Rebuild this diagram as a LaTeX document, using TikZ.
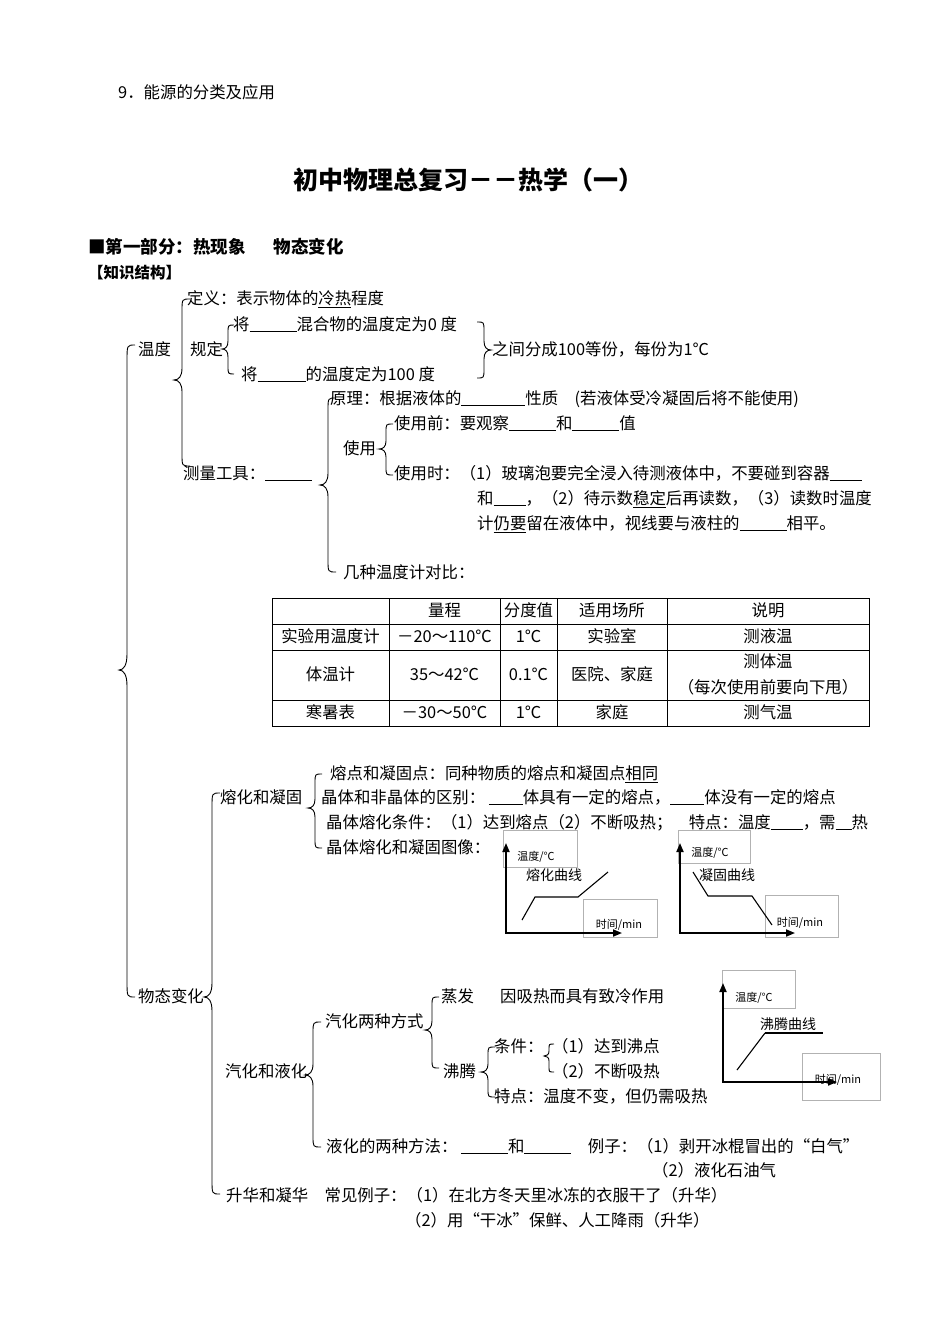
\documentclass[tikz,border=0pt]{standalone}
\usepackage{fontspec}
\setmainfont{Noto Sans CJK SC}
\usetikzlibrary{arrows.meta}
\newcommand{\bl}[1]{\rule[-0.12em]{#1}{0.6pt}}
% left brace: x of line, top y, tip y, bottom y, width, radius
\newcommand{\LB}[6]{\draw[brc] ({#1+#5},{#2}) .. controls ({#1},{#2}) and ({#1},{#2}) .. ({#1},{#2+#6}) -- ({#1},{#3-#6}) .. controls ({#1},{#3-0.3*#6}) and ({#1-0.4*#5},{#3}) .. ({#1-#5},{#3}) .. controls ({#1-0.4*#5},{#3}) and ({#1},{#3+0.3*#6}) .. ({#1},{#3+#6}) -- ({#1},{#4-#6}) .. controls ({#1},{#4}) and ({#1},{#4}) .. ({#1+#5},{#4});}
\newcommand{\RB}[6]{\draw[brc] ({#1-#5},{#2}) .. controls ({#1},{#2}) and ({#1},{#2}) .. ({#1},{#2+#6}) -- ({#1},{#3-#6}) .. controls ({#1},{#3-0.3*#6}) and ({#1+0.4*#5},{#3}) .. ({#1+#5},{#3}) .. controls ({#1+0.4*#5},{#3}) and ({#1},{#3+0.3*#6}) .. ({#1},{#3+#6}) -- ({#1},{#4-#6}) .. controls ({#1},{#4}) and ({#1},{#4}) .. ({#1-#5},{#4});}
\tikzset{
  txt/.style={anchor=west, inner sep=0pt, text height=1.05em, text depth=0.05em},
  cell/.style={anchor=center, inner sep=0pt, text height=1.05em, text depth=0.05em},
  brc/.style={line width=0.9pt, black},
  tbl/.style={line width=0.8pt, black},
  gbox/.style={line width=0.7pt, black!30},
  axis/.style={line width=1.8pt, black, {Triangle[length=9pt,width=7pt]}-{Triangle[length=9pt,width=7pt]}},
  curve/.style={line width=1.1pt, black},
  small/.style={font=\fontsize{11}{13}\selectfont},
  mid/.style={font=\fontsize{14}{16}\selectfont},
}
\begin{document}
\begin{tikzpicture}[x=1pt,y=-1pt,font=\fontsize{16.4}{19}\selectfont]
\fill[white] (0,0) rectangle (950,1344);
\useasboundingbox (0,0) rectangle (950,1344);

% headings
\node[txt] (n9) at (118,93) {9．能源的分类及应用};
\node[cell, font=\fontsize{25}{29}\selectfont\bfseries] (title) at (468,184) {初中物理总复习－－热学（一）};
\node[txt, font=\fontsize{17.5}{20}\selectfont\bfseries] (sec) at (88,248) {■第一部分：热现象\hspace{1.6em}物态变化};
\node[txt, font=\fontsize{15.5}{18}\selectfont\bfseries] (kj) at (88,273) {【知识结构】};

% 温度
\node[txt] (wd) at (138,350) {温度};
\node[txt] (dy) at (187,299) {定义：表示物体的\underline{冷热}程度};
\node[txt] (gd) at (190,350) {规定};
\node[txt] (j1) at (233,325) {将\bl{47pt}混合物的温度定为0 度};
\node[txt] (j2) at (241,375) {将\bl{48pt}的温度定为100 度};
\node[txt] (zj) at (492,350) {之间分成100等份，每份为1℃};
\node[txt] (clgj) at (183,474) {测量工具：\bl{47pt}};
\node[txt] (yl) at (330,399) {原理：根据液体的\bl{64pt}性质\quad(若液体受冷凝固后将不能使用)};
\node[txt] (sy) at (343,449) {使用};
\node[txt] (syq) at (394,424) {使用前：要观察\bl{47pt}和\bl{47pt}值};
\node[txt] (sys) at (394,474) {使用时：（1）玻璃泡要完全浸入待测液体中，不要碰到容器\bl{32pt}};
\node[txt] (sys2) at (477,499) {和\bl{32pt}，（2）待示数\underline{稳定}后再读数，（3）读数时温度};
\node[txt] (sys3) at (477,524) {计\underline{仍要}留在液体中，视线要与液柱的\bl{47pt}相平。};
\node[txt] (jz) at (343,573) {几种温度计对比：};

% braces for 温度
\LB{127}{345}{670}{997}{8}{16}
\LB{182}{299}{380}{466}{8}{12}
\LB{228}{325}{349}{374}{6}{8}
\RB{484}{322}{350}{378}{7}{9}
\LB{328}{398}{485}{572}{8}{12}
\LB{386}{424}{449}{475}{7}{8}

% table
\draw[tbl] (272,598) rectangle (869,726);
\foreach \yy in {624,650,700} \draw[tbl] (272,\yy) -- (869,\yy);
\foreach \xx in {389,500,557,667} \draw[tbl] (\xx,598) -- (\xx,726);
\node[cell] (h2) at (444.5,611) {量程};
\node[cell] (h3) at (528.5,611) {分度值};
\node[cell] (h4) at (612,611) {适用场所};
\node[cell] (h5) at (768,611) {说明};
\node[cell] (a1) at (330.5,637) {实验用温度计};
\node[cell] (a2) at (444.5,637) {－20～110℃};
\node[cell] (a3) at (528.5,637) {1℃};
\node[cell] (a4) at (612,637) {实验室};
\node[cell] (a5) at (768,637) {测液温};
\node[cell] (b1) at (330.5,675) {体温计};
\node[cell] (b2) at (444.5,675) {35～42℃};
\node[cell] (b3) at (528.5,675) {0.1℃};
\node[cell] (b4) at (612,675) {医院、家庭};
\node[cell] (b5) at (768,662) {测体温};
\node[cell] (b6) at (768,688) {（每次使用前要向下甩）};
\node[cell] (c1) at (330.5,713) {寒暑表};
\node[cell] (c2) at (444.5,713) {－30～50℃};
\node[cell] (c3) at (528.5,713) {1℃};
\node[cell] (c4) at (612,713) {家庭};
\node[cell] (c5) at (768,713) {测气温};

% 物态变化
\node[txt] (wt) at (138,997) {物态变化};
\LB{212}{793}{997}{1194}{8}{14}
\node[txt] (rh) at (220,798) {熔化和凝固};
\LB{315}{774}{808}{848}{7}{9}
\node[txt] (rd) at (330,774) {熔点和凝固点：同种物质的熔点和凝固点\underline{相同}};
\node[txt] (qb) at (321,798) {晶体和非晶体的区别：\ \bl{34pt}体具有一定的熔点，\bl{34pt}体没有一定的熔点};
\node[txt] (tj) at (326,823) {晶体熔化条件：（1）达到熔点（2）不断吸热；\quad 特点：温度\bl{32pt}，需\bl{16pt}热};
\node[txt] (tx) at (326,848) {晶体熔化和凝固图像：};

% graph 1
\draw[gbox] (503,830) rectangle (577,867);
\draw[gbox] (583,899) rectangle (657,937);
\draw[axis] (506,843) -- (506,933) -- (622,933);
\draw[curve] (522,920) -- (535,897) -- (578,897) -- (608,872);
\node[cell, small] (g1y) at (536,855) {温度/℃};
\node[cell, mid] (g1t) at (554,875) {熔化曲线};
\node[cell, small] (g1x) at (619,923) {时间/min};

% graph 2
\draw[gbox] (678,830) rectangle (750,863);
\draw[gbox] (765,895) rectangle (838,937);
\draw[axis] (680,843) -- (680,933) -- (795,933);
\draw[curve] (693,872) -- (708,896) -- (752,896) -- (772,925);
\node[cell, small] (g2y) at (710,851) {温度/℃};
\node[cell, mid] (g2t) at (727,875) {凝固曲线};
\node[cell, small] (g2x) at (800,921) {时间/min};

% 汽化和液化
\node[txt] (qh) at (225,1072) {汽化和液化};
\LB{313}{1022}{1075}{1147}{8}{11}
\node[txt] (qf) at (325,1022) {汽化两种方式};
\LB{432}{997}{1030}{1068}{7}{9}
\node[txt] (zf) at (441,997) {蒸发};
\node[txt] (zl) at (500,997) {因吸热而具有致冷作用};
\node[txt] (ft) at (443,1072) {沸腾};
\LB{488}{1047}{1072}{1097}{7}{8}
\node[txt] (tjn) at (494,1047) {条件：};
\LB{549}{1044}{1056}{1072}{5}{5}
\node[txt] (k1) at (552,1047) {（1）达到沸点};
\node[txt] (k2) at (552,1072) {（2）不断吸热};
\node[txt] (td) at (494,1097) {特点：温度不变，但仍需吸热};
\node[txt] (yh) at (326,1147) {液化的两种方法：\ \bl{47pt}和\bl{47pt}\quad 例子：（1）剥开冰棍冒出的“白气”};
\node[txt] (yh2) at (652,1171) {（2）液化石油气};
\node[txt] (sh) at (226,1196) {升华和凝华\quad 常见例子：（1）在北方冬天里冰冻的衣服干了（升华）};
\node[txt] (sh2) at (405,1221) {（2）用“干冰”保鲜、人工降雨（升华）};

% graph 3
\draw[gbox] (722,970) rectangle (795,1008);
\draw[gbox] (802,1053) rectangle (880,1100);
\draw[axis] (723,983) -- (723,1082) -- (837,1082);
\draw[curve] (737,1070) -- (765,1033);
\draw[line width=2pt] (765,1033) -- (823,1033);
\node[cell, small] (g3y) at (754,996) {温度/℃};
\node[cell, mid] (g3t) at (788,1024) {沸腾曲线};
\node[cell, small] (g3x) at (838,1078) {时间/min};
\end{tikzpicture}
\end{document}
